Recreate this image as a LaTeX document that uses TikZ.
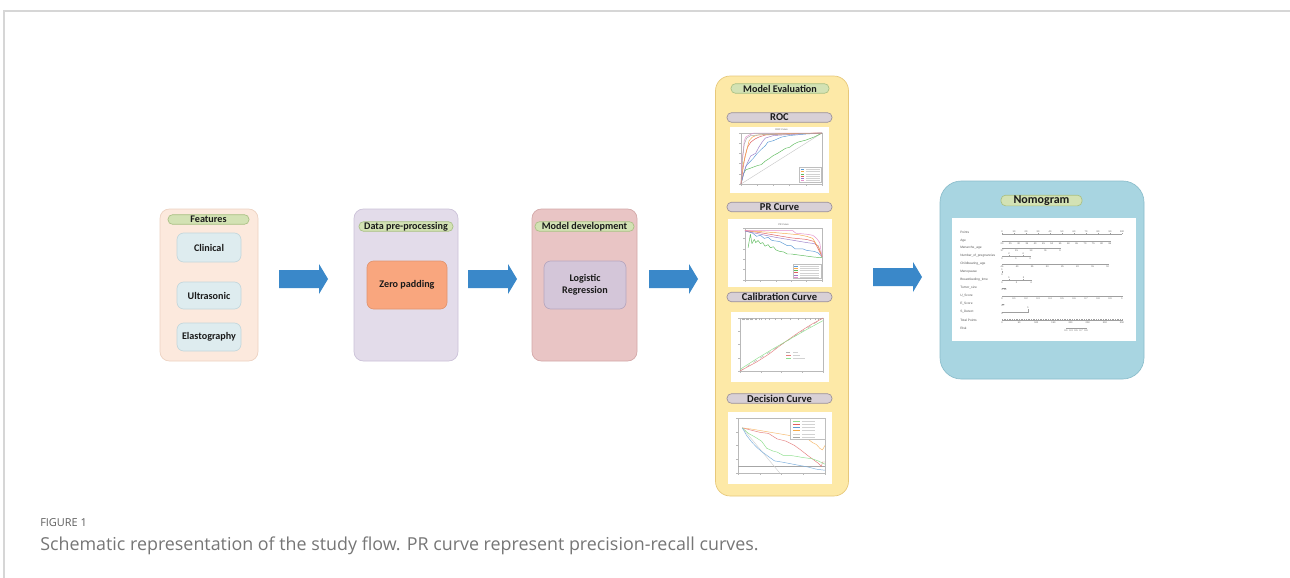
\documentclass[tikz,border=0pt]{standalone}
\usepackage{fontspec}
\setmainfont{Carlito}
\newfontfamily\capfont{Open Sans}
\newfontfamily\plotfont{Liberation Sans}
\definecolor{framegray}{HTML}{D6D6D6}
\definecolor{featfill}{HTML}{FCE9DD}
\definecolor{featdraw}{HTML}{EDD2C1}
\definecolor{itemfill}{HTML}{DEECEF}
\definecolor{itemdraw}{HTML}{C3D7DC}
\definecolor{pillfill}{HTML}{D3E2B4}
\definecolor{pilldraw}{HTML}{A9C084}
\definecolor{prefill}{HTML}{E3DCEA}
\definecolor{predraw}{HTML}{CBC1D8}
\definecolor{zerofill}{HTML}{F9A67E}
\definecolor{zerodraw}{HTML}{E2946E}
\definecolor{devfill}{HTML}{E9C5C5}
\definecolor{devdraw}{HTML}{D3A8A8}
\definecolor{logfill}{HTML}{D4C6D9}
\definecolor{logdraw}{HTML}{B6A6BE}
\definecolor{evalfill}{HTML}{FDE9A7}
\definecolor{evaldraw}{HTML}{E7C87A}
\definecolor{gpillfill}{HTML}{D8D0D6}
\definecolor{gpilldraw}{HTML}{9C919A}
\definecolor{nomofill}{HTML}{A8D5E1}
\definecolor{nomodraw}{HTML}{8BBDCB}
\definecolor{arrowblue}{HTML}{3A88C9}
\definecolor{capgray}{HTML}{5E5E5E}
\definecolor{cblue}{HTML}{5B9BD5}
\definecolor{corange}{HTML}{F5A94A}
\definecolor{cgreen}{HTML}{5DBB5D}
\definecolor{cred}{HTML}{E06060}
\definecolor{cpurple}{HTML}{9B7FC9}
\definecolor{cpink}{HTML}{E58FCB}
\definecolor{clgreen}{HTML}{8FE08F}
\definecolor{ctext}{HTML}{1A1A1A}
\begin{document}
\begin{tikzpicture}[x=0.75pt,y=-0.75pt,
  panel/.style={rounded corners=7pt, line width=0.5pt, inner sep=0pt},
  item/.style={rounded corners=5pt, line width=0.5pt, inner sep=0pt, text=ctext,
    font=\fontsize{7.6}{8.6}\selectfont\bfseries, align=center},
  pill/.style={draw=pilldraw, fill=pillfill, rounded corners=3.4pt, line width=0.5pt,
    inner sep=0pt, minimum height=7.2pt, text=ctext, font=\fontsize{7.6}{8}\selectfont\bfseries},
  gpill/.style={draw=gpilldraw, fill=gpillfill, rounded corners=3.4pt, line width=0.5pt,
    inner sep=0pt, minimum height=7.2pt, text=ctext, minimum width=78.75pt,
    font=\fontsize{7.9}{8}\selectfont\bfseries},
  plotbox/.style={fill=white, draw=none, inner sep=0pt},
  axisline/.style={draw=gray!55, line width=0.25pt},
  curve/.style={line width=0.35pt, line join=round},
  legline/.style={line width=0.35pt},
  legtext/.style={draw=gray!35, line width=0.5pt},
  nlabel/.style={anchor=west, inner sep=0pt, font=\plotfont\fontsize{2.4}{2.6}\selectfont, text=gray!70!black},
  ntick/.style={inner sep=0.3pt, font=\plotfont\fontsize{1.8}{2}\selectfont, text=gray!70!black},
  nline/.style={draw=gray!75, line width=0.25pt},
  bigarrow/.style={fill=arrowblue, draw=none}
]
\useasboundingbox (0,0) rectangle (1290,578);
\fill[white] (0,0) rectangle (1290,578);
% page frame
\coordinate (ftl) at (4,11);
\coordinate (ftr) at (1290,11);
\coordinate (fbl) at (4,578);
\draw[framegray, line width=0.8pt] (ftr) -- (ftl) -- (fbl);

% ---------- Features ----------
\node[panel, fill=featfill, draw=featdraw, minimum width=73.5pt, minimum height=114pt] (feat) at (209,285) {};
\node[pill, minimum width=60.75pt] (featpill) at (208.5,219.5) {Features};
\node[item, fill=itemfill, draw=itemdraw, minimum width=48pt, minimum height=21.75pt] (clin) at (209,247.5) {Clinical};
\node[item, fill=itemfill, draw=itemdraw, minimum width=48pt, minimum height=20.25pt] (ultra) at (209,295.5) {Ultrasonic};
\node[item, fill=itemfill, draw=itemdraw, minimum width=48pt, minimum height=21pt] (elast) at (209,337) {Elastography};

% ---------- Data pre-processing ----------
\node[panel, fill=prefill, draw=predraw, minimum width=78pt, minimum height=114pt] (pre) at (406,285) {};
\node[pill, minimum width=70.5pt] (prepill) at (406,226.5) {Data pre-processing};
\node[item, fill=zerofill, draw=zerodraw, minimum width=60pt, minimum height=36pt] (zero) at (407,285) {Zero padding};

% ---------- Model development ----------
\node[panel, fill=devfill, draw=devdraw, minimum width=78.75pt, minimum height=114pt] (dev) at (584.5,285) {};
\node[pill, minimum width=74.25pt] (devpill) at (584.5,226.5) {Model development};
\node[item, fill=logfill, draw=logdraw, minimum width=61.5pt, minimum height=36pt] (logit) at (585,285) {Logistic\\Regression};

% ---------- Model evaluation ----------
\node[panel, rounded corners=11pt, fill=evalfill, draw=evaldraw, minimum width=99.75pt, minimum height=315pt] (eval) at (782,286) {};
\node[pill, minimum width=73.5pt] (evalpill) at (780,88.5) {Model Evaluation};
\node[gpill] (rocpill) at (779.5,117.5) {ROC};
\node[plotbox, minimum width=74.25pt, minimum height=49.5pt] (rocplot) at (779.5,160) {};
\node[gpill] (prpill) at (779.5,207) {PR Curve};
\node[plotbox, minimum width=78pt, minimum height=51pt] (prplot) at (780,253) {};
\node[gpill] (calpill) at (779.5,297) {Calibration Curve};
\node[plotbox, minimum width=73.5pt, minimum height=52.5pt] (calplot) at (780,347) {};
\node[gpill] (decpill) at (779.5,398.5) {Decision Curve};
\node[plotbox, minimum width=78pt, minimum height=54pt] (decplot) at (780,448) {};

% ROC plot
\begin{scope}[shift={(741,184)},xscale=81,yscale=-51]
  \draw[axisline] (0,0) rectangle (1,1);
  \foreach \t in {0,0.2,0.4,0.6,0.8,1} {\draw[axisline] (\t,0) -- (\t,-0.04); \draw[axisline] (0,\t) -- (-0.025,\t);}
  \node[ntick] (roct) at (0.5,1.07) {ROC Curve};
  \draw[gray!45, line width=0.3pt] (0,0) -- (1,1);
  \draw[curve, cgreen] plot coordinates {(0,0) (0.03,0.2) (0.06,0.28) (0.1,0.3) (0.15,0.33) (0.2,0.36) (0.25,0.38) (0.3,0.45) (0.35,0.5) (0.4,0.56) (0.45,0.6) (0.5,0.65) (0.55,0.7) (0.6,0.72) (0.65,0.78) (0.7,0.82) (0.8,0.86) (0.9,0.92) (1,1)};
  \draw[curve, cblue] plot coordinates {(0,0) (0.03,0.18) (0.06,0.35) (0.1,0.42) (0.15,0.5) (0.2,0.6) (0.25,0.68) (0.3,0.75) (0.33,0.82) (0.4,0.85) (0.5,0.92) (0.6,0.95) (0.8,0.98) (1,1)};
  \draw[curve, cpurple] plot coordinates {(0,0) (0.04,0.25) (0.08,0.42) (0.12,0.55) (0.18,0.6) (0.22,0.72) (0.26,0.82) (0.3,0.9) (0.4,0.95) (0.6,0.97) (1,1)};
  \draw[curve, cred] plot coordinates {(0,0) (0.02,0.25) (0.05,0.55) (0.08,0.72) (0.12,0.82) (0.17,0.88) (0.22,0.92) (0.3,0.96) (0.5,0.98) (1,1)};
  \draw[curve, corange] plot coordinates {(0,0) (0.02,0.35) (0.05,0.52) (0.08,0.72) (0.1,0.85) (0.14,0.92) (0.2,0.96) (0.4,0.98) (1,1)};
  \draw[curve, cpink] plot coordinates {(0,0) (0.01,0.45) (0.03,0.68) (0.04,0.85) (0.06,0.92) (0.1,0.96) (0.16,1) (1,1)};
  \draw[curve, gray!70] plot coordinates {(0,0) (0.02,0.5) (0.04,0.78) (0.07,0.9) (0.12,0.95) (0.3,0.97) (0.6,0.98) (1,1)};
  \draw[draw=gray!50, fill=white, line width=0.2pt] (0.72,0.03) rectangle (0.99,0.33);
  \foreach \k/\c in {0/cblue,1/corange,2/cgreen,3/cred,4/cpurple,5/cpink} {
    \draw[legline, \c] (0.74,0.29-\k*0.045) -- (0.78,0.29-\k*0.045);
    \draw[legtext, line width=0.3pt] (0.8,0.29-\k*0.045) -- (0.97,0.29-\k*0.045);}
\end{scope}

% PR plot
\begin{scope}[shift={(745,280)},xscale=77,yscale=-52]
  \draw[axisline] (0,0) rectangle (1,1);
  \foreach \t in {0,0.2,0.4,0.6,0.8,1} {\draw[axisline] (\t,0) -- (\t,-0.04); \draw[axisline] (0,\t) -- (-0.025,\t);}
  \node[ntick] (prt) at (0.5,1.07) {PR Curve};
  \draw[curve, cgreen] plot coordinates {(0.04,0.62) (0.07,0.88) (0.09,0.7) (0.12,0.78) (0.14,0.72) (0.17,0.76) (0.2,0.7) (0.23,0.72) (0.26,0.65) (0.3,0.68) (0.33,0.62) (0.37,0.64) (0.4,0.58) (0.45,0.55) (0.5,0.54) (0.55,0.5) (0.6,0.5) (0.7,0.48) (0.8,0.46) (0.9,0.44) (1,0.43)};
  \draw[curve, cblue] plot coordinates {(0,0.95) (0.1,0.9) (0.15,0.84) (0.2,0.86) (0.25,0.8) (0.3,0.82) (0.35,0.76) (0.45,0.74) (0.5,0.7) (0.55,0.66) (0.6,0.66) (0.65,0.6) (0.75,0.6) (0.8,0.57) (0.9,0.55) (0.95,0.52) (1,0.45)};
  \draw[curve, cpurple] plot coordinates {(0,0.94) (0.2,0.88) (0.4,0.82) (0.6,0.77) (0.8,0.72) (0.9,0.7) (0.95,0.66) (1,0.45)};
  \draw[curve, cred] plot coordinates {(0,0.95) (0.2,0.91) (0.4,0.86) (0.6,0.81) (0.8,0.78) (0.9,0.74) (0.95,0.6) (1,0.45)};
  \draw[curve, corange] plot coordinates {(0,0.95) (0.2,0.93) (0.4,0.91) (0.55,0.89) (0.7,0.87) (0.8,0.84) (0.88,0.8) (0.92,0.7) (0.96,0.62) (1,0.45)};
  \draw[curve, cpink] plot coordinates {(0,0.95) (0.3,0.95) (0.62,0.95) (0.66,0.9) (0.8,0.88) (0.88,0.86) (0.93,0.8) (0.97,0.72) (1,0.45)};
  \draw[draw=gray!50, fill=white, line width=0.2pt] (0.62,0.03) rectangle (0.99,0.3);
  \foreach \k/\c in {0/cblue,1/corange,2/cgreen,3/cred,4/cpurple,5/cpink} {
    \draw[legline, \c] (0.64,0.26-\k*0.04) -- (0.69,0.26-\k*0.04);
    \draw[legtext, line width=0.3pt] (0.71,0.26-\k*0.04) -- (0.96,0.26-\k*0.04);}
\end{scope}

% Calibration plot
\begin{scope}[shift={(740,371)},xscale=83,yscale=-53]
  \draw[axisline] (0,0) rectangle (1,1);
  \foreach \t in {0,0.25,0.5,0.75,1} {\draw[axisline] (\t,0) -- (\t,-0.04); \draw[axisline] (0,\t) -- (-0.025,\t);}
  \foreach \r in {0.02,0.04,0.05,0.07,0.08,0.1,0.12,0.13,0.15,0.18,0.2,0.23,0.26,0.3,0.35,0.42,0.5,0.6,0.7,0.78,0.85,0.9,0.94,0.97} {\draw[gray!60, line width=0.2pt] (\r,0.96) -- (\r,1);}
  \draw[line width=0.35pt, gray!60, dashed] (0,0) -- (1,1);
  \draw[curve, cred!80] plot coordinates {(0,0) (0.2,0.17) (0.35,0.32) (0.5,0.5) (0.7,0.72) (0.85,0.87) (1,1)};
  \draw[curve, clgreen] plot coordinates {(0,0.03) (0.2,0.23) (0.4,0.42) (0.6,0.6) (0.8,0.78) (1,0.95)};
  \draw[legline, gray!60, dashed] (0.56,0.36) -- (0.62,0.36);
  \draw[legtext, line width=0.3pt] (0.64,0.36) -- (0.7,0.36);
  \draw[legline, cred!80] (0.56,0.3) -- (0.62,0.3);
  \draw[legtext, line width=0.3pt] (0.64,0.3) -- (0.72,0.3);
  \draw[legline, clgreen] (0.56,0.24) -- (0.62,0.24);
  \draw[legtext, line width=0.3pt] (0.64,0.24) -- (0.78,0.24);
\end{scope}

% Decision plot
\begin{scope}[shift={(738,473)},xscale=87,yscale=-55]
  \draw[axisline] (0,0) rectangle (1,1);
  \foreach \t in {0,0.25,0.5,0.75,1} {\draw[axisline] (\t,0) -- (\t,-0.04); \draw[axisline] (0,\t) -- (-0.025,\t);}
  \draw[line width=0.35pt, gray!70] (0,0.12) -- (1,0.12);
  \draw[line width=0.35pt, gray!35] (0.05,0.82) -- (0.48,0);
  \draw[curve, corange!80] plot coordinates {(0.05,0.82) (0.15,0.8) (0.3,0.76) (0.45,0.72) (0.6,0.68) (0.7,0.66) (0.8,0.62) (0.86,0.55) (0.9,0.52) (0.94,0.45) (0.97,0.42) (1,0.5)};
  \draw[curve, cred!80] plot coordinates {(0.05,0.82) (0.15,0.78) (0.25,0.74) (0.35,0.72) (0.45,0.62) (0.55,0.58) (0.65,0.5) (0.72,0.42) (0.8,0.32) (0.86,0.25) (0.92,0.18) (0.96,0.12) (0.97,0.2) (1,0.2)};
  \draw[curve, clgreen] plot coordinates {(0.05,0.82) (0.12,0.72) (0.2,0.65) (0.27,0.58) (0.33,0.45) (0.4,0.4) (0.45,0.38) (0.52,0.32) (0.6,0.32) (0.68,0.3) (0.75,0.28) (0.85,0.26) (0.92,0.22) (1,0.16)};
  \draw[curve, cblue!80] plot coordinates {(0.05,0.82) (0.1,0.68) (0.16,0.56) (0.22,0.46) (0.28,0.38) (0.35,0.3) (0.42,0.22) (0.5,0.2) (0.6,0.17) (0.7,0.14) (0.8,0.11) (0.9,0.07) (1,0.05)};
  \draw[draw=gray!50, fill=white, line width=0.2pt] (0.6,0.62) rectangle (1,1);
  \foreach \k/\c in {0/clgreen,1/cred,2/cblue,3/corange,4/gray!35,5/gray!70} {
    \draw[legline, \c] (0.63,0.95-\k*0.06) -- (0.71,0.95-\k*0.06);
    \draw[legtext, line width=0.3pt] (0.73,0.95-\k*0.06) -- (0.88,0.95-\k*0.06);}
\end{scope}

% ---------- Nomogram ----------
\node[panel, rounded corners=16pt, fill=nomofill, draw=nomodraw, minimum width=153pt, minimum height=148.5pt] (nomo) at (1042,280) {};
\node[pill, minimum width=60.75pt, minimum height=8pt, font=\fontsize{9}{9}\selectfont\bfseries] (nomopill) at (1041.5,200.5) {Nomogram};
\node[plotbox, minimum width=138pt, minimum height=92.25pt] (nomoplot) at (1044,279.5) {};
\foreach \lab/\yy in {Points/232,Age/241,Menarche\_age/248,Number\_of\_pregnancies/256,Childbearing\_age/264,Menopause/272,Breastfeeding\_time/280,Tumor\_size/288,U\_Score/296,E\_Score/304,S\_Detect/312,Total Points/320,Risk/328}
  {\node[nlabel] at (960,\yy) {\lab};}
% Points
\draw[nline] (1002,234) -- (1122,234);
\foreach \i in {0,...,10} {\pgfmathtruncatemacro\v{\i*10}
  \draw[nline] (1002+\i*12,234) -- ++(0,-1.2) node[ntick, above] {\v};}
% Age
\draw[nline] (1002,241) -- (1110,241);
\foreach \v [count=\i from 0] in {20,25,30,35,40,45,50,55,60,65,70,75,80,85} {
  \draw[nline] (1002+\i*8.3,241) -- ++(0,1.2) node[ntick, below] {\v};}
% Menarche_age
\draw[nline] (1002,248) -- (1060,248);
\foreach \v [count=\i from 0] in {17,15,13,11,9} {
  \draw[nline] (1002+\i*14.5,248) -- ++(0,1.2) node[ntick, below] {\v};}
% Number_of_pregnancies
\draw[nline] (1002,256) -- (1030,256);
\foreach \v [count=\i from 0] in {0,1,3} {
  \draw[nline] (1002+\i*14,256) -- ++(0,1.2) node[ntick, below] {\v};}
\foreach \v [count=\i from 0] in {2,4} {
  \draw[nline] (1009+\i*14,256) -- ++(0,-1.2) node[ntick, above] {\v};}
% Childbearing_age
\draw[nline] (1002,264) -- (1108,264);
\foreach \v [count=\i from 0] in {45,40,35,30,25,20,15,10} {
  \draw[nline] (1002+\i*15.1,264) -- ++(0,1.2) node[ntick, below] {\v};}
% Menopause
\draw[nline] (1002,271) -- (1002,273);
\node[ntick, above] at (1002,271) {1};
\node[ntick, below] at (1002,273) {0};
% Breastfeeding_time
\draw[nline] (1002,280) -- (1031,280);
\foreach \v [count=\i from 0] in {0,2,4} {
  \draw[nline] (1002+\i*14.5,280) -- ++(0,1.2) node[ntick, below] {\v};}
\foreach \v [count=\i from 0] in {1,3} {
  \draw[nline] (1009+\i*14.5,280) -- ++(0,-1.2) node[ntick, above] {\v};}
% Tumor_size
\draw[nline] (1002,288) -- (1006,288);
\node[ntick, below] at (1004,288.5) {0 10};
% U_Score
\draw[nline] (1002,296) -- (1122,296);
\foreach \v [count=\i from 0] in {0,0.1,0.2,0.3,0.4,0.5,0.6,0.7,0.8,0.9,1} {
  \draw[nline] (1002+\i*12,296) -- ++(0,1.2) node[ntick, below] {\v};}
% E_Score
\draw[nline, line width=0.6pt] (1002,304) -- (1004,304);
\node[ntick, below] at (1003,304.5) {0.7};
% S_Detect
\draw[nline] (1002,312) -- (1028,312) -- (1028,309);
\node[ntick, below] at (1002,312.5) {0};
\node[ntick, above] at (1028,309) {1};
% Total Points
\draw[nline] (1002,320) -- (1122,320);
\foreach \i in {0,...,70} {\draw[nline, line width=0.15pt] (1002+\i*1.714,320) -- ++(0,-1);}
\foreach \v [count=\i from 0] in {0,50,100,150,200,250,300,350} {
  \draw[nline] (1002+\i*17.14,320) -- ++(0,1.2) node[ntick, below] {\v};}
% Risk
\draw[nline] (1066,328) -- (1086,328);
\foreach \v [count=\i from 0] in {0.1,0.3,0.5,0.7,0.9} {
  \draw[nline] (1066+\i*5,328) -- ++(0,1.2) node[ntick, below] {\v};}

% ---------- arrows ----------
\coordinate (a1s) at (279,279); \coordinate (a1e) at (328,279);
\coordinate (a2s) at (468,279); \coordinate (a2e) at (517,279);
\coordinate (a3s) at (649,279); \coordinate (a3e) at (698,279);
\coordinate (a4s) at (873,277); \coordinate (a4e) at (922,277);
\foreach \s/\e in {a1s/a1e,a2s/a2e,a3s/a3e,a4s/a4e}
  \fill[bigarrow] (\s) ++(0,-9) -- ++(40,0) -- ++(0,-6) -- (\e) -- ++(-9,15) -- ++(0,-6) -- ++(-40,0) -- cycle;

% ---------- caption ----------
\node[anchor=base west, inner sep=0pt, font=\capfont\fontsize{8.2}{9}\selectfont, text=capgray] (figlabel) at (40,526) {FIGURE 1};
\node[anchor=base west, inner sep=0pt, font=\capfont\fontsize{13.4}{15}\selectfont, text=capgray!85] (caption) at (40,550) {Schematic representation of the study flow. PR curve represent precision-recall curves.};
\end{tikzpicture}
\end{document}
